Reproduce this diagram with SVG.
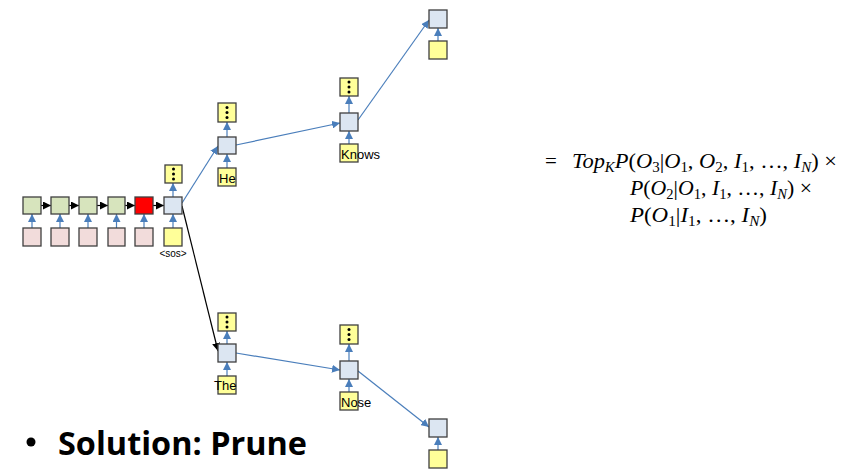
<svg xmlns="http://www.w3.org/2000/svg" width="847" height="476" viewBox="0 0 847 476">
<style>
.bx{stroke:#3f3f3f;stroke-width:1.3}
.g{fill:#d7e4bd}.p{fill:#f2dcdb}.r{fill:#ff0000}.b{fill:#dce6f2}.y{fill:#ffff99}
.ba{stroke:#4a7ebb;stroke-width:1.2;fill:none;marker-end:url(#mb)}
.ka{stroke:#000;stroke-width:1.2;fill:none;marker-end:url(#mk)}
.lbl{font-family:"Liberation Sans",Arial,sans-serif;font-size:13px;fill:#000}
.m{font-family:"Liberation Serif","DejaVu Serif",serif;font-size:21px;fill:#000}
.it{font-style:italic}
.sb{font-size:14px}
</style>
<defs>
<marker id="mb" markerUnits="userSpaceOnUse" markerWidth="9" markerHeight="8" refX="8" refY="4" orient="auto"><path d="M0,0 L8,4 L0,8 Z" fill="#4a7ebb"/></marker>
<marker id="mk" markerUnits="userSpaceOnUse" markerWidth="9" markerHeight="8" refX="8" refY="4" orient="auto"><path d="M0,0 L8,4 L0,8 Z" fill="#000"/></marker>
<g id="dots"><circle cx="0" cy="-5" r="1.5"/><circle cx="0" cy="0" r="1.5"/><circle cx="0" cy="5" r="1.5"/></g>
</defs>
<rect width="847" height="476" fill="#fff"/>

<g id="connectors">
<line class="ka" x1="41" y1="205.5" x2="51" y2="205.5"/>
<line class="ka" x1="69" y1="205.5" x2="79" y2="205.5"/>
<line class="ka" x1="97" y1="205.5" x2="108" y2="205.5"/>
<line class="ka" x1="125" y1="205.5" x2="135" y2="205.5"/>
<line class="ka" x1="153" y1="205.5" x2="164" y2="205.5"/>
<line class="ba" x1="32" y1="228" x2="32" y2="214"/>
<line class="ba" x1="60" y1="228" x2="60" y2="214"/>
<line class="ba" x1="88" y1="228" x2="88" y2="214"/>
<line class="ba" x1="116.5" y1="228" x2="116.5" y2="214"/>
<line class="ba" x1="144" y1="228" x2="144" y2="214"/>
<line class="ba" x1="173" y1="228" x2="173" y2="214"/>
<line class="ba" x1="173" y1="197" x2="173" y2="183"/>
<line class="ba" x1="227" y1="168" x2="227" y2="154"/>
<line class="ba" x1="227" y1="137" x2="227" y2="122"/>
<line class="ba" x1="349" y1="144" x2="349" y2="131"/>
<line class="ba" x1="349" y1="113" x2="349" y2="96"/>
<line class="ba" x1="438" y1="41" x2="438" y2="28"/>
<line class="ba" x1="227" y1="376" x2="227" y2="362"/>
<line class="ba" x1="227" y1="344" x2="227" y2="331"/>
<line class="ba" x1="349" y1="392" x2="349" y2="379"/>
<line class="ba" x1="349" y1="361" x2="349" y2="344"/>
<line class="ba" x1="438" y1="450" x2="438" y2="437"/>
<line class="ba" x1="182" y1="203" x2="218" y2="146"/>
<line class="ka" x1="182" y1="206" x2="218" y2="351"/>
<line class="ba" x1="236" y1="145" x2="340" y2="123"/>
<line class="ba" x1="358" y1="120" x2="429" y2="20"/>
<line class="ba" x1="236" y1="353" x2="340" y2="370"/>
<line class="ba" x1="358" y1="371" x2="429" y2="427"/>
</g>

<g id="encoder">
<rect class="bx g" x="23" y="197" width="18" height="17"/>
<rect class="bx g" x="51" y="197" width="18" height="17"/>
<rect class="bx g" x="79" y="197" width="18" height="17"/>
<rect class="bx g" x="108" y="197" width="17" height="17"/>
<rect class="bx r" x="135" y="197" width="18" height="17"/>
<rect class="bx p" x="23" y="228" width="18" height="18"/>
<rect class="bx p" x="51" y="228" width="18" height="18"/>
<rect class="bx p" x="79" y="228" width="18" height="18"/>
<rect class="bx p" x="108" y="228" width="17" height="18"/>
<rect class="bx p" x="135" y="228" width="18" height="18"/>
</g>

<g id="node-sos">
<rect class="bx b" x="164" y="197" width="18" height="17"/>
<rect class="bx y" x="164" y="228" width="18" height="18"/>
<rect class="bx y" x="165" y="165" width="17" height="18"/>
<use href="#dots" x="173.5" y="174"/>
<text class="lbl" x="173" y="257" text-anchor="middle" style="font-size:10px">&lt;sos&gt;</text>
</g>

<g id="node-he">
<rect class="bx b" x="218" y="137" width="18" height="17"/>
<rect class="bx y" x="218" y="103" width="18" height="19"/>
<use href="#dots" x="227" y="112.5"/>
<rect class="bx y" x="218" y="168" width="18" height="18"/>
<text class="lbl" x="219" y="183">He</text>
</g>

<g id="node-knows">
<rect class="bx b" x="340" y="113" width="18" height="18"/>
<rect class="bx y" x="340" y="78" width="18" height="18"/>
<use href="#dots" x="349" y="87"/>
<rect class="bx y" x="340" y="144" width="18" height="18"/>
<text class="lbl" x="341" y="159">Knows</text>
</g>

<g id="node-top">
<rect class="bx b" x="429" y="10" width="18" height="18"/>
<rect class="bx y" x="429" y="41" width="18" height="18"/>
</g>

<g id="node-the">
<rect class="bx b" x="218" y="344" width="18" height="18"/>
<rect class="bx y" x="218" y="313" width="18" height="18"/>
<use href="#dots" x="227" y="322"/>
<rect class="bx y" x="218" y="376" width="18" height="18"/>
<text class="lbl" x="214" y="390">The</text>
</g>

<g id="node-nose">
<rect class="bx b" x="340" y="361" width="18" height="18"/>
<rect class="bx y" x="340" y="325" width="18" height="19"/>
<use href="#dots" x="349" y="334.5"/>
<rect class="bx y" x="340" y="392" width="18" height="18"/>
<text class="lbl" x="341" y="407">Nose</text>
</g>

<g id="node-bottom">
<rect class="bx b" x="429" y="419" width="18" height="18"/>
<rect class="bx y" x="429" y="450" width="18" height="18"/>
</g>

<g id="formula">
<text class="m" x="545" y="168">=</text>
<text class="m" x="572" y="168" textLength="265" lengthAdjust="spacingAndGlyphs"><tspan class="it">Top</tspan><tspan class="it sb" dy="4">K</tspan><tspan class="it" dy="-4">P</tspan>(<tspan class="it">O</tspan><tspan class="sb" dy="4">3</tspan><tspan dy="-4">|</tspan><tspan class="it">O</tspan><tspan class="sb" dy="4">1</tspan><tspan dy="-4">, </tspan><tspan class="it">O</tspan><tspan class="sb" dy="4">2</tspan><tspan dy="-4">, </tspan><tspan class="it">I</tspan><tspan class="sb" dy="4">1</tspan><tspan dy="-4">, …, </tspan><tspan class="it">I</tspan><tspan class="it sb" dy="4">N</tspan><tspan dy="-4">) ×</tspan></text>
<text class="m" x="630" y="195" textLength="182" lengthAdjust="spacingAndGlyphs"><tspan class="it">P</tspan>(<tspan class="it">O</tspan><tspan class="sb" dy="4">2</tspan><tspan dy="-4">|</tspan><tspan class="it">O</tspan><tspan class="sb" dy="4">1</tspan><tspan dy="-4">, </tspan><tspan class="it">I</tspan><tspan class="sb" dy="4">1</tspan><tspan dy="-4">, …, </tspan><tspan class="it">I</tspan><tspan class="it sb" dy="4">N</tspan><tspan dy="-4">) ×</tspan></text>
<text class="m" x="630" y="222" textLength="137" lengthAdjust="spacingAndGlyphs"><tspan class="it">P</tspan>(<tspan class="it">O</tspan><tspan class="sb" dy="4">1</tspan><tspan dy="-4">|</tspan><tspan class="it">I</tspan><tspan class="sb" dy="4">1</tspan><tspan dy="-4">, …, </tspan><tspan class="it">I</tspan><tspan class="it sb" dy="4">N</tspan><tspan dy="-4">)</tspan></text>
</g>

<g id="bullet">
<circle cx="31" cy="442" r="4.5" fill="#000"/>
<text x="58" y="455" font-family="'Open Sans','Liberation Sans',sans-serif" font-weight="bold" font-size="32" textLength="249" lengthAdjust="spacingAndGlyphs" fill="#000">Solution: Prune</text>
</g>
</svg>
